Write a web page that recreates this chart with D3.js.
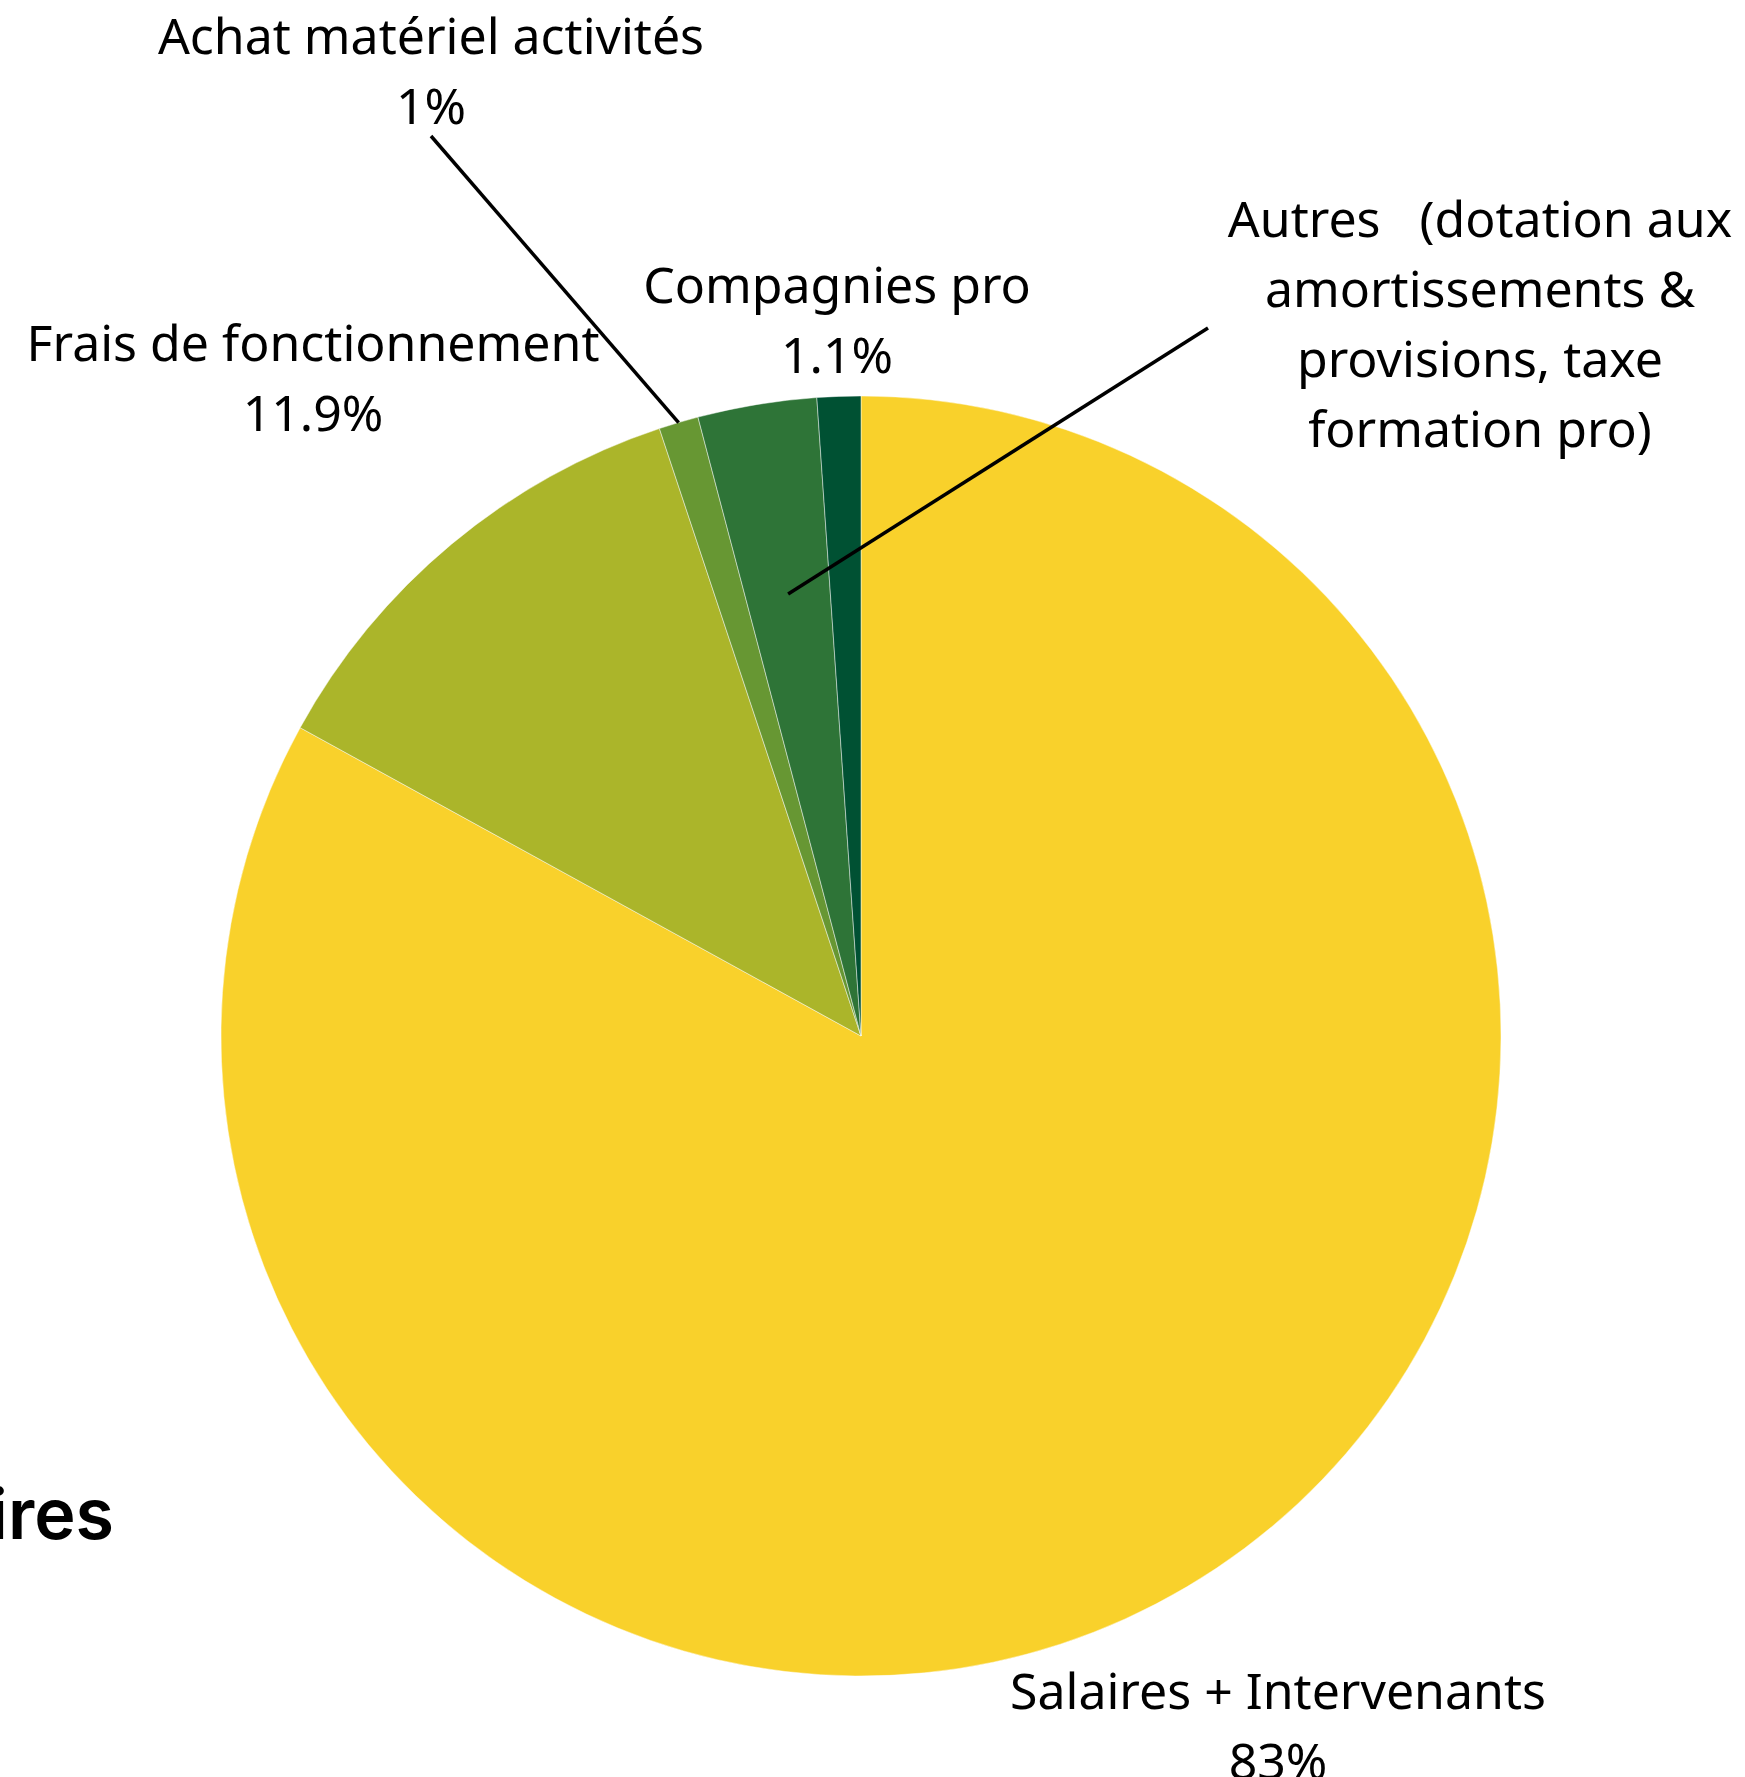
<!DOCTYPE html>
<html>
<head>
<meta charset="utf-8">
<script src="https://cdn.jsdelivr.net/npm/d3@7"></script>
<style>
  html, body { margin: 0; padding: 0; background: #fff; overflow: hidden; }
</style>
</head>
<body>
<div id="chart"></div>
<script>
// ━━━━━━━━━━━━━━━━━━━━━━━━━━━━━━━━━━━━━━━━━━━━━━━━━━━━━━━━━━━━━━━━━━━━━━━━━━━━━━
// Données ///////////////////////////////////////////////////////////////////////
// ━━━━━━━━━━━━━━━━━━━━━━━━━━━━━━━━━━━━━━━━━━━━━━━━━━━━━━━━━━━━━━━━━━━━━━━━━━━━━━

const categories = [
  'Salaires + Intervenants',
  'Frais de fonctionnement',
  'Achat matériel activités',
  'Autres   (dotation aux amortissements & provisions, taxe formation pro)',
  'Compagnies pro'
];
const values = [83, 11.9, 1, 3, 1.1];
const pct_labels = ['83%', '11.9%', '1%', null, '1.1%'];
const colors = ['#f9d12b', '#abb52a', '#679733', '#2e7437', '#005133'];

// lignes de texte des étiquettes (retours à la ligne comme dans Excel)
const label_lines = [
  ['Salaires + Intervenants'],
  ['Frais de fonctionnement'],
  ['Achat matériel activités'],
  ['Autres   (dotation aux', 'amortissements &', 'provisions, taxe', 'formation pro)'],
  ['Compagnies pro']
];

const width = 1745, height = 1777;

// ━━━━━━━━━━━━━━━━━━━━━━━━━━━━━━━━━━━━━━━━━━━━━━━━━━━━━━━━━━━━━━━━━━━━━━━━━━━━━━
// SVG setup /////////////////////////////////////////////////////////////////////
// ━━━━━━━━━━━━━━━━━━━━━━━━━━━━━━━━━━━━━━━━━━━━━━━━━━━━━━━━━━━━━━━━━━━━━━━━━━━━━━

const svg = d3.select('#chart').append('svg')
  .attr('viewBox', [0, 0, width, height])
  .attr('width', width)
  .attr('height', height);

const cx = 861, cy = 1036, radius = 640;

const  title = svg.append('g').attr('id', 'titre');
const    pie = svg.append('g').attr('id', 'camembert').attr('transform', `translate(${cx},${cy})`);
const leader = svg.append('g').attr('id', 'lignes');
const labels = svg.append('g').attr('id', 'etiquettes');

// bout de titre coupé à gauche
title.append('text')
  .attr('x', 114)
  .attr('y', 1539)
  .attr('text-anchor', 'end')
  .attr('font-family', 'Inter, sans-serif')
  .attr('font-weight', 600)
  .attr('font-size', 70)
  .attr('fill', '#000')
  .text('Salaires');

// ━━━━━━━━━━━━━━━━━━━━━━━━━━━━━━━━━━━━━━━━━━━━━━━━━━━━━━━━━━━━━━━━━━━━━━━━━━━━━━
// Camembert /////////////////////////////////////////////////////////////////////
// ━━━━━━━━━━━━━━━━━━━━━━━━━━━━━━━━━━━━━━━━━━━━━━━━━━━━━━━━━━━━━━━━━━━━━━━━━━━━━━

const data = categories.map((c, i) => ({ name: c, value: values[i], color: colors[i], pct: pct_labels[i], lines: label_lines[i] }));

const arcs = d3.pie().sort(null).value(d => d.value)(data);
const arc = d3.arc().innerRadius(0).outerRadius(radius);

pie.selectAll('path')
  .data(arcs)
  .join('path')
  .attr('d', arc)
  .attr('fill', d => d.data.color)
  .attr('stroke', '#ffffff')
  .attr('stroke-opacity', 0.45)
  .attr('stroke-width', 1);

// ━━━━━━━━━━━━━━━━━━━━━━━━━━━━━━━━━━━━━━━━━━━━━━━━━━━━━━━━━━━━━━━━━━━━━━━━━━━━━━
// Étiquettes (placées à la main, comme dans l'original) /////////////////////////
// ━━━━━━━━━━━━━━━━━━━━━━━━━━━━━━━━━━━━━━━━━━━━━━━━━━━━━━━━━━━━━━━━━━━━━━━━━━━━━━

// position du texte (centre, ligne de base de la 1re ligne)
const label_pos = [
  { x: 1278, y: 1709 },
  { x: 313,  y: 361 },
  { x: 431,  y: 54 },
  { x: 1480, y: 237 },
  { x: 837,  y: 303 }
];
const line_h = 70;

const arcPoint = (a, r) => [cx + r * Math.sin(a), cy - r * Math.cos(a)];

// lignes de rappel : Achat (vers le bord) et Autres (vers l'intérieur)
const leaders = [
  { i: 2, from: [431, 136], r: radius },
  { i: 3, from: [1208, 328], r: radius * 0.7 }
];

leader.selectAll('line')
  .data(leaders)
  .join('line')
  .attr('x1', d => d.from[0])
  .attr('y1', d => d.from[1])
  .attr('x2', d => arcPoint((arcs[d.i].startAngle + arcs[d.i].endAngle) / 2, d.r)[0])
  .attr('y2', d => arcPoint((arcs[d.i].startAngle + arcs[d.i].endAngle) / 2, d.r)[1])
  .attr('stroke', '#000')
  .attr('stroke-width', 3.5);

const lab = labels.selectAll('text')
  .data(arcs)
  .join('text')
  .attr('text-anchor', 'middle')
  .attr('font-family', '"Noto Sans", sans-serif')
  .attr('font-size', 50)
  .attr('fill', '#000')
  .style('white-space', 'pre');

lab.each(function(d, i) {
  const t = d3.select(this);
  const rows = d.data.pct ? d.data.lines.concat([d.data.pct]) : d.data.lines;
  rows.forEach((row, k) => {
    t.append('tspan')
      .attr('x', label_pos[i].x)
      .attr('y', label_pos[i].y + k * line_h)
      .text(row);
  });
});
</script>
</body>
</html>
